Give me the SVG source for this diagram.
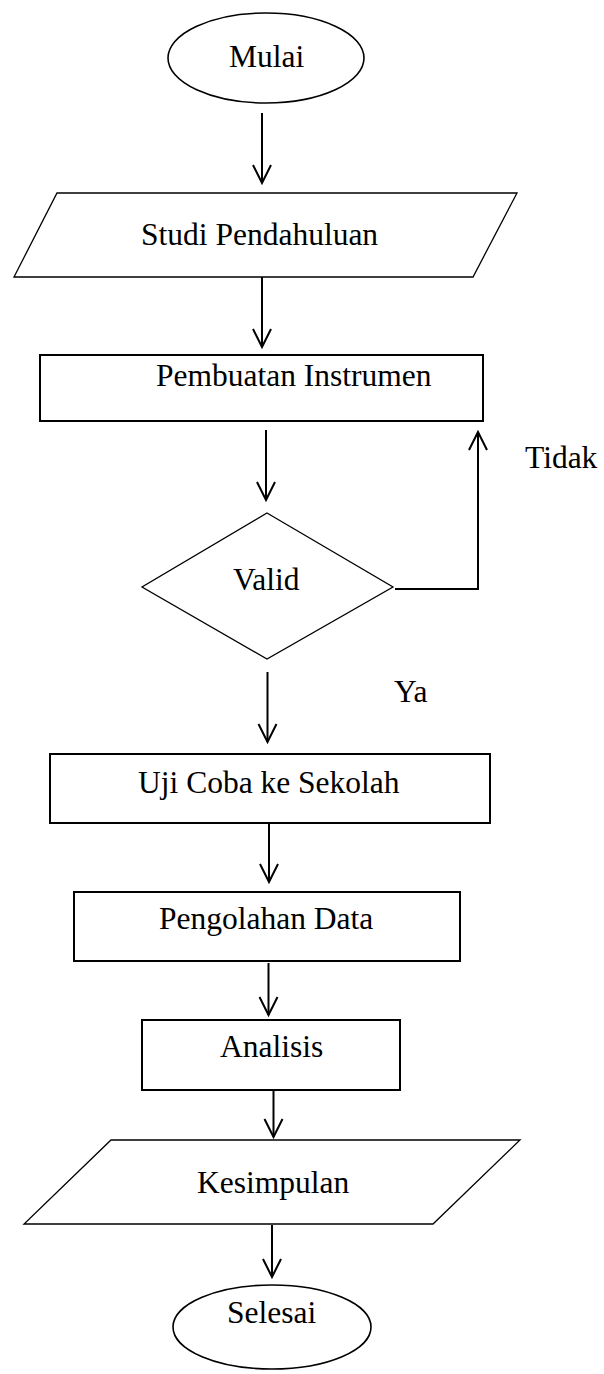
<svg xmlns="http://www.w3.org/2000/svg" width="604" height="1374" viewBox="0 0 604 1374">
<style>
.s{fill:#fff;stroke:#000;stroke-width:1.6}
.r{fill:#fff;stroke:#000;stroke-width:2}
.p{fill:#fff;stroke:#000;stroke-width:1.3}
.c{fill:none;stroke:#000;stroke-width:2}
text{font-family:"Liberation Serif","Times New Roman",serif;font-size:31.5px;fill:#000}
</style>
<defs>
<marker id="ah" markerUnits="userSpaceOnUse" viewBox="-21 -12 24 24" refX="0" refY="0" markerWidth="24" markerHeight="24" orient="auto">
<path d="M-18,-9 L0,0 L-18,9" fill="none" stroke="#000" stroke-width="2"/>
</marker>
</defs>
<rect width="604" height="1374" fill="#fff"/>
<g id="connectors" class="c">
<line x1="262" y1="113" x2="262" y2="183" marker-end="url(#ah)"/>
<line x1="262" y1="277" x2="262" y2="347" marker-end="url(#ah)"/>
<line x1="266" y1="430" x2="266" y2="500" marker-end="url(#ah)"/>
<line x1="267.5" y1="672" x2="267.5" y2="742" marker-end="url(#ah)"/>
<line x1="269" y1="824" x2="269" y2="882" marker-end="url(#ah)"/>
<line x1="268.5" y1="963" x2="268.5" y2="1015" marker-end="url(#ah)"/>
<line x1="273.5" y1="1091" x2="273.5" y2="1137" marker-end="url(#ah)"/>
<line x1="272" y1="1225" x2="272" y2="1277" marker-end="url(#ah)"/>
<polyline points="395,589 478,589 478,432" marker-end="url(#ah)"/>
</g>
<g id="mulai">
<ellipse class="s" cx="266" cy="58" rx="98" ry="45"/>
<text x="229" y="67">Mulai</text>
</g>
<g id="studi">
<polygon class="p" points="57,193 517,193 473,277 14,277"/>
<text x="141" y="245">Studi Pendahuluan</text>
</g>
<g id="pembuatan">
<rect class="r" x="40" y="355" width="443" height="66"/>
<text x="156" y="386">Pembuatan Instrumen</text>
</g>
<g id="valid">
<polygon class="p" points="267,513 393,587 267,659 142,587"/>
<text x="233" y="590">Valid</text>
</g>
<g id="label-tidak">
<text x="525" y="468">Tidak</text>
</g>
<g id="label-ya">
<text x="394" y="702">Ya</text>
</g>
<g id="uji">
<rect class="r" x="50" y="754" width="440" height="69"/>
<text x="138" y="793">Uji Coba ke Sekolah</text>
</g>
<g id="pengolahan">
<rect class="r" x="74" y="892" width="386" height="69"/>
<text x="159" y="929">Pengolahan Data</text>
</g>
<g id="analisis">
<rect class="r" x="142" y="1020" width="258" height="70"/>
<text x="220" y="1057">Analisis</text>
</g>
<g id="kesimpulan">
<polygon class="p" points="111,1140 520,1140 433,1224 24,1224"/>
<text x="197" y="1193">Kesimpulan</text>
</g>
<g id="selesai">
<ellipse class="s" cx="272" cy="1327" rx="99" ry="42"/>
<text x="227" y="1323">Selesai</text>
</g>
</svg>
